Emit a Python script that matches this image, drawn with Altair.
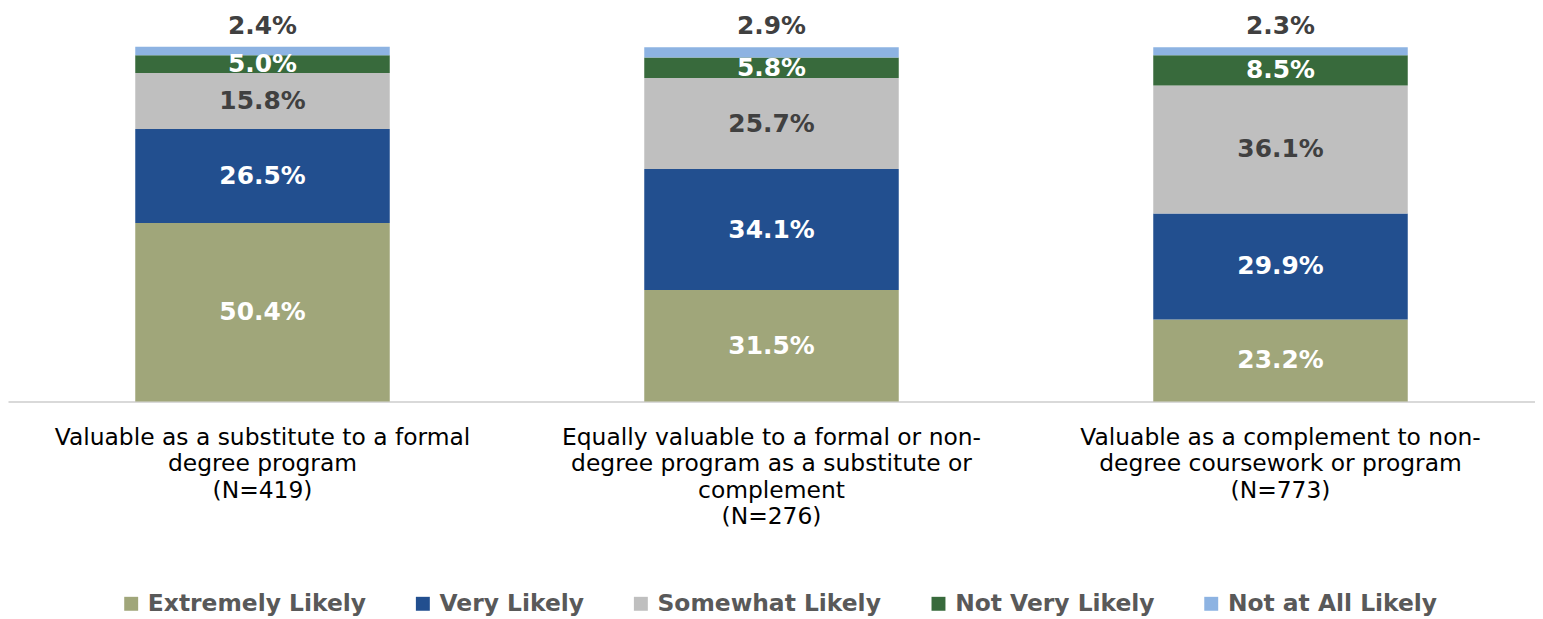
import altair as alt
import pandas as pd

categories = [
    "Valuable as a substitute to a formal\ndegree program\n(N=419)",
    "Equally valuable to a formal or non-\ndegree program as a substitute or\ncomplement\n(N=276)",
    "Valuable as a complement to non-\ndegree coursework or program\n(N=773)",
]
responses = ["Extremely Likely", "Very Likely", "Somewhat Likely", "Not Very Likely", "Not at All Likely"]
extremely_likely = [50.4, 31.5, 23.2]
very_likely = [26.5, 34.1, 29.9]
somewhat_likely = [15.8, 25.7, 36.1]
not_very_likely = [5.0, 5.8, 8.5]
not_at_all_likely = [2.4, 2.9, 2.3]
colors = ["#A0A67A", "#224F8F", "#BFBFBF", "#386A3C", "#8DB3E2"]

series = [extremely_likely, very_likely, somewhat_likely, not_very_likely, not_at_all_likely]
rows = []
for ri, (resp, vals) in enumerate(zip(responses, series)):
    for cat, v in zip(categories, vals):
        rows.append({"category": cat, "response": resp, "order": ri, "value": v})
df = pd.DataFrame(rows)

FONT = "DejaVu Sans"

base = (
    alt.Chart(df)
    .transform_stack(stack="value", groupby=["category"], sort=[alt.SortField("order")], as_=["y0", "y1"])
    .transform_calculate(
        mid="(datum.y0 + datum.y1) / 2",
        label="format(datum.value, '.1f') + '%'",
        tc="(datum.response == 'Somewhat Likely' || datum.response == 'Not at All Likely') ? '#404040' : '#FFFFFF'",
    )
)

x_enc = alt.X(
    "category:N",
    sort=categories,
    scale=alt.Scale(paddingInner=0.5, paddingOuter=0.25),
    axis=alt.Axis(
        title=None,
        labelAngle=0,
        labelExpr="split(datum.label, '\\n')",
        labelFont=FONT,
        labelFontSize=23.5,
        labelColor="#000000",
        labelLineHeight=26.5,
        labelPadding=24,
        ticks=False,
        domainColor="#D9D9D9",
        domainWidth=2,
        labelLimit=0,
    ),
)
y_scale = alt.Scale(domain=[0, 100], nice=False)

bars = base.mark_bar().encode(
    x=x_enc,
    y=alt.Y("y0:Q", scale=y_scale, axis=None),
    y2="y1:Q",
    color=alt.Color(
        "response:N",
        sort=responses,
        scale=alt.Scale(domain=responses, range=colors),
        legend=alt.Legend(
            title=None,
            orient="none",
            direction="horizontal",
            columns=5,
            legendX=112,
            legendY=547,
            symbolType="square",
            symbolSize=196,
            symbolStrokeWidth=0,
            labelFont=FONT,
            labelFontWeight="bold",
            labelFontSize=23.5,
            labelColor="#595959",
            labelOffset=5,
            columnPadding=45,
            padding=0,
            labelLimit=0,
        ),
    ),
)

inner = base.transform_filter("datum.response != 'Not at All Likely'").mark_text(
    font=FONT, fontWeight="bold", fontSize=25, baseline="middle"
).encode(
    x=alt.X("category:N", sort=categories),
    y=alt.Y("mid:Q", scale=y_scale),
    text="label:N",
    color=alt.Color("tc:N", scale=None),
)

top = base.transform_filter("datum.response == 'Not at All Likely'").mark_text(
    font=FONT, fontWeight="bold", fontSize=25, baseline="middle", dy=-21, color="#404040"
).encode(
    x=alt.X("category:N", sort=categories),
    y=alt.Y("y1:Q", scale=y_scale),
    text="label:N",
)

chart = (
    alt.layer(bars, inner, top)
    .properties(width=1534, height=356, padding={"left": 0, "right": 0, "top": 4, "bottom": 0})
    .configure_view(stroke=None)
)

chart.save("out.html", embed_options={"renderer": "svg", "actions": False})
